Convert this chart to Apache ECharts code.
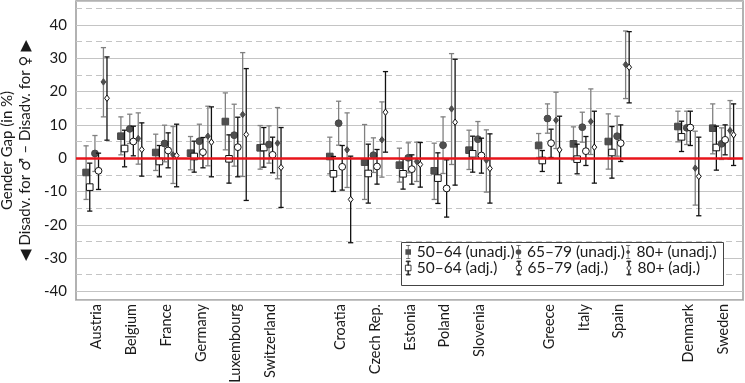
<!DOCTYPE html>
<html>
<head>
<meta charset="utf-8">
<script src="https://cdn.jsdelivr.net/npm/echarts@6/dist/echarts.min.js"></script>
<style>
  html, body { margin: 0; padding: 0; background: #fff; }
  #chart { width: 745px; height: 383px; }
</style>
</head>
<body>
<div id="chart"></div>
<script>
// countries, split in regional groups (one empty slot between groups)
const countryGroups = [
  ['Austria', 'Belgium', 'France', 'Germany', 'Luxembourg', 'Switzerland'],
  ['Croatia', 'Czech Rep.', 'Estonia', 'Poland', 'Slovenia'],
  ['Greece', 'Italy', 'Spain'],
  ['Denmark', 'Sweden']
];

const yTicks = [-40, -30, -20, -10, 0, 10, 20, 30, 40];

// gender gap estimates (point, lower, upper) per country, in countryGroups order
const y50Unadj   = [-4.3, 6.6, 1.7, 1.5, 11.0, 3.1, 0.5, -1.2, -2.1, -3.8, 2.4, 3.8, 4.3, 5.0, 9.5, 9.0];
const y50UnadjLo = [-12.4, 1.0, -3.7, -3.5, 2.5, -3.3, -4.7, -12.4, -7.2, -12.4, -3.4, 0.2, -0.5, -3.3, 4.9, 1.3];
const y50UnadjHi = [3.7, 12.4, 7.2, 6.5, 19.6, 9.8, 6.3, 10.1, 3.0, 4.5, 8.4, 7.4, 9.4, 13.3, 14.1, 16.3];

const y50Adj   = [-8.7, 2.9, -1.0, 0.5, -0.2, 3.2, -4.7, -4.6, -4.7, -6.0, 1.3, -0.7, -0.3, 1.7, 6.4, 3.2];
const y50AdjLo = [-15.9, -2.6, -5.6, -4.2, -7.5, -2.7, -10.0, -13.5, -9.3, -13.6, -4.2, -4.0, -4.7, -6.0, 2.0, -3.6];
const y50AdjHi = [-1.5, 8.4, 3.8, 5.1, 7.0, 9.2, 0.5, 4.2, -0.3, 1.6, 6.6, 2.3, 4.2, 9.5, 11.1, 9.6];

const y65Unadj   = [1.4, 8.8, 4.4, 5.1, 6.9, 4.1, 10.5, 0.9, 0.1, 3.9, 5.7, 11.9, 9.3, 6.6, 9.1, 4.3];
const y65UnadjLo = [-4.0, 4.4, -1.1, 0.0, -2.4, -1.5, 3.9, -4.3, -4.4, -4.6, 0.4, 7.5, 4.8, 0.6, 4.1, -0.4];
const y65UnadjHi = [6.8, 13.2, 9.9, 10.2, 16.2, 9.7, 17.1, 6.1, 4.6, 12.4, 11.0, 16.3, 13.8, 12.6, 14.1, 9.1];

const y65Adj   = [-3.8, 5.0, 2.3, 1.8, 3.3, 1.0, -2.6, -2.5, -3.3, -9.1, 0.8, 4.5, 2.1, 4.5, 9.2, 5.5];
const y65AdjLo = [-9.4, 0.7, -2.9, -2.9, -5.6, -4.4, -9.6, -7.8, -7.8, -17.7, -4.5, 0.2, -2.2, -1.0, 3.8, 1.0];
const y65AdjHi = [1.5, 9.6, 7.6, 6.2, 12.3, 6.3, 3.8, 2.6, 1.0, -0.5, 6.0, 8.7, 6.5, 10.0, 14.1, 10.0];

const y80Unadj   = [22.9, 5.9, 1.0, 6.6, 13.1, 4.5, 2.5, 5.5, -1.0, 14.8, -0.6, 11.4, 11.0, 28.1, -3.0, 8.3];
const y80UnadjLo = [12.4, -1.8, -7.6, -2.3, -5.5, -6.2, -8.8, -5.7, -7.0, -1.9, -10.2, 2.9, 1.1, 17.9, -14.1, -0.3];
const y80UnadjHi = [33.2, 13.6, 9.5, 15.6, 31.7, 15.2, 13.6, 16.9, 4.8, 31.4, 8.5, 19.8, 20.8, 38.2, 8.1, 17.3];

const y80Adj   = [18.0, 2.6, 0.8, 4.8, 7.1, -2.8, -12.4, 13.8, -1.9, 10.8, -3.1, 2.5, 3.3, 27.3, -5.5, 7.0];
const y80AdjLo = [5.4, -5.4, -8.6, -5.6, -12.7, -14.8, -25.4, 1.8, -8.7, -8.1, -13.5, -7.5, -7.5, 16.6, -17.3, -2.2];
const y80AdjHi = [30.4, 10.6, 10.2, 15.4, 26.9, 9.2, 0.6, 26.0, 4.7, 29.7, 7.3, 12.6, 14.1, 38.0, 6.3, 16.3];

// slot labels along the x axis ('' = gap between groups)
const slotLabels = [];
const countrySlots = [];
countryGroups.forEach((g, gi) => {
  if (gi > 0) slotLabels.push('');
  g.forEach(name => {
    countrySlots.push(slotLabels.length);
    slotLabels.push(name);
  });
});

const FONT = 'Lato, "DejaVu Sans", sans-serif';
const TEXT = '#1a1a1a';
const UNADJ_BAR = '#808080';
const ADJ_BAR = '#111';

// whisker + marker legend icons (10 x 20 box)
const whisker = 'M2 0H8V1H2Z M4.5 1H5.5V6H4.5Z M4.5 14H5.5V19H4.5Z M2 19H8V20H2Z ';
const icons = {
  square: 'path://' + whisker + 'M1 6H9V14H1Z',
  circle: 'path://' + whisker + 'M1 10A4 4 0 1 0 9 10A4 4 0 1 0 1 10Z',
  diamond: 'path://' + whisker + 'M5 6L8 10L5 14L2 10Z'
};

const seriesDefs = [
  { name: '50–64 (unadj.)', shape: 'square', filled: true, dx: -0.30, v: y50Unadj, lo: y50UnadjLo, hi: y50UnadjHi },
  { name: '50–64 (adj.)', shape: 'square', filled: false, dx: -0.195, v: y50Adj, lo: y50AdjLo, hi: y50AdjHi },
  { name: '65–79 (unadj.)', shape: 'circle', filled: true, dx: -0.046, v: y65Unadj, lo: y65UnadjLo, hi: y65UnadjHi },
  { name: '65–79 (adj.)', shape: 'circle', filled: false, dx: 0.057, v: y65Adj, lo: y65AdjLo, hi: y65AdjHi },
  { name: '80+ (unadj.)', shape: 'diamond', filled: true, dx: 0.198, v: y80Unadj, lo: y80UnadjLo, hi: y80UnadjHi },
  { name: '80+ (adj.)', shape: 'diamond', filled: false, dx: 0.30, v: y80Adj, lo: y80AdjLo, hi: y80AdjHi }
];

// legend order: unadjusted row, then adjusted row
const legendOrder = [0, 2, 4, 1, 3, 5];

function makeRender(def) {
  const barColor = def.filled ? UNADJ_BAR : ADJ_BAR;
  const fill = def.filled ? '#4f4f4f' : '#fff';
  const stroke = def.filled ? '#474747' : '#111';
  return function (params, api) {
    const x = api.value(0);
    const c = api.coord([x, api.value(1)]);
    const lo = api.coord([x, api.value(2)]);
    const hi = api.coord([x, api.value(3)]);
    const cap = 2.6;
    const lineStyle = { stroke: barColor, lineWidth: 1.3 };
    const children = [
      { type: 'line', shape: { x1: c[0], y1: lo[1], x2: c[0], y2: hi[1] }, style: lineStyle },
      { type: 'line', shape: { x1: c[0] - cap, y1: lo[1], x2: c[0] + cap, y2: lo[1] }, style: lineStyle },
      { type: 'line', shape: { x1: c[0] - cap, y1: hi[1], x2: c[0] + cap, y2: hi[1] }, style: lineStyle }
    ];
    const mStyle = { fill: fill, stroke: stroke, lineWidth: 1 };
    if (def.shape === 'square') {
      children.push({ type: 'rect', shape: { x: c[0] - 3.3, y: c[1] - 3.3, width: 6.6, height: 6.6 }, style: mStyle });
    } else if (def.shape === 'circle') {
      children.push({ type: 'circle', shape: { cx: c[0], cy: c[1], r: 3.4 }, style: mStyle });
    } else {
      children.push({ type: 'polygon', shape: { points: [[c[0], c[1] - 3.2], [c[0] + 2.4, c[1]], [c[0], c[1] + 3.2], [c[0] - 2.4, c[1]]] }, style: mStyle });
    }
    return { type: 'group', children: children };
  };
}

const chart = echarts.init(document.getElementById('chart'));

const series = seriesDefs.map(def => ({
  name: def.name,
  type: 'custom',
  renderItem: makeRender(def),
  encode: { x: 0, y: 1 },
  z: 3,
  data: def.v.map((v, i) => [countrySlots[i] + def.dx, v, def.lo[i], def.hi[i]])
}));

// red zero line
series.push({
  type: 'line',
  data: [],
  z: 2,
  markLine: {
    silent: true,
    symbol: 'none',
    label: { show: false },
    lineStyle: { color: '#e8141b', width: 2.6, type: 'solid' },
    data: [{ yAxis: 0 }]
  }
});

function legendItem(def) {
  return {
    name: def.name,
    icon: icons[def.shape],
    itemStyle: def.filled
      ? { color: '#4f4f4f', borderWidth: 0 }
      : { color: '#fff', borderColor: '#111', borderWidth: 0.8 }
  };
}

chart.setOption({
  animation: false,
  backgroundColor: '#fff',
  grid: {
    left: 76, right: 2, top: 1, bottom: 83,
    outerBoundsMode: 'none',
    containLabel: false,
    show: true, borderColor: '#999', borderWidth: 1.5, backgroundColor: 'transparent'
  },
  graphic: [{
    type: 'rect',
    z: 5,
    shape: { x: 401.5, y: 242.5, width: 322, height: 43 },
    style: { fill: '#fff', stroke: '#444', lineWidth: 1 }
  }],
  legend: {
    orient: 'horizontal',
    left: 405,
    top: 244,
    width: 345,
    itemWidth: 7,
    itemHeight: 14,
    itemGap: 0,
    padding: 0,
    z: 6,
    selectedMode: false,
    formatter: name => '{t|' + name + '}',
    textStyle: {
      fontFamily: FONT, fontSize: 15.5, color: TEXT,
      rich: { t: { fontFamily: FONT, fontSize: 15.5, color: TEXT, width: 99, lineHeight: 21, align: 'left' } }
    },
    data: legendOrder.map(i => legendItem(seriesDefs[i]))
  },
  xAxis: {
    type: 'value',
    min: -0.59,
    max: 18.57,
    splitNumber: 19,
    minInterval: 1,
    maxInterval: 1,
    axisLine: { show: false },
    axisTick: { show: false },
    splitLine: { show: false },
    axisLabel: {
      rotate: 90,
      margin: 4,
      fontFamily: FONT,
      fontSize: 14.5,
      color: TEXT,
      showMinLabel: false,
      showMaxLabel: false,
      formatter: v => (Number.isInteger(v) && slotLabels[v]) ? slotLabels[v] : ''
    }
  },
  yAxis: [
    {
      type: 'value',
      min: -42.6,
      max: 47.2,
      splitNumber: 9,
      minInterval: 10,
      maxInterval: 10,
      name: 'Gender Gap (in %)\n◀ Disadv. for ♂ – Disadv. for ♀ ▶',
      nameLocation: 'middle',
      nameGap: 42,
      nameMoveOverlap: false,
      nameTextStyle: { fontFamily: FONT, fontSize: 15, lineHeight: 18, color: TEXT },
      axisLine: { show: false },
      axisTick: { show: false },
      splitLine: { show: true, lineStyle: { color: '#c4c4c4', width: 1 } },
      axisLabel: {
        margin: 9,
        fontFamily: FONT,
        fontSize: 15,
        color: TEXT,
        showMinLabel: false,
        showMaxLabel: false,
        formatter: v => yTicks.includes(v) ? String(v) : ''
      }
    },
    {
      type: 'value',
      min: -42.6,
      max: 47.2,
      splitNumber: 18,
      minInterval: 5,
      maxInterval: 5,
      position: 'right',
      axisLine: { show: false },
      axisTick: { show: false },
      axisLabel: { show: false },
      splitLine: { show: true, lineStyle: { color: '#c4c4c4', width: 1, type: [6, 4] } }
    }
  ],
  series: series
});
</script>
</body>
</html>
